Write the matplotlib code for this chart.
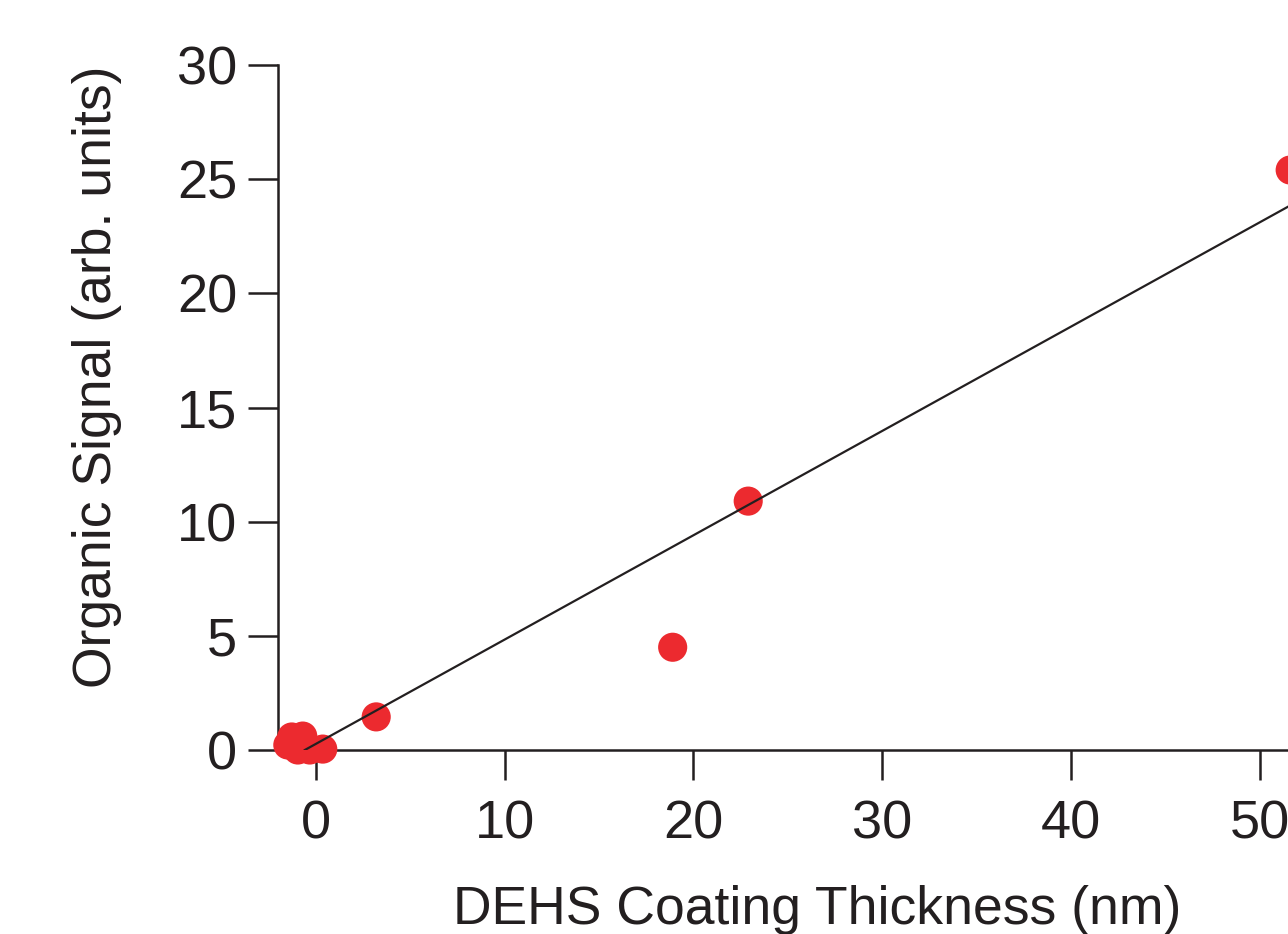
import matplotlib
matplotlib.use("Agg")
import matplotlib.pyplot as plt
import numpy as np

# Data
thickness = [-1.48, -1.27, -0.69, -0.95, -0.32, 0.37, 3.2, 18.9, 22.9, 51.6]
signal = [0.22, 0.57, 0.61, 0.0, 0.0, 0.04, 1.45, 4.5, 10.9, 25.4]
fit_slope = 0.457
fit_intercept = 0.265
fit_x = [-0.58, 60]
xticks = [0, 10, 20, 30, 40, 50]
yticks = [0, 5, 10, 15, 20, 25, 30]

text_color = "#231f20"
red = "#ec2a2f"

plt.rcParams['font.family'] = ['Liberation Sans', 'DejaVu Sans']

fig = plt.figure(figsize=(12.88, 9.34), dpi=100)
W, H = 1288, 934
px = 18.88
x0 = -2.0
x1 = 60
left = 278 / W
right_px = 316 + x1 * px
ax = fig.add_axes([left, (H - 750) / H, (right_px - 278) / W, (750 - 65) / H])

fx = np.array(fit_x)
ax.plot(fx, fit_slope * fx + fit_intercept, color=text_color, lw=1.6, zorder=4)
ax.scatter(thickness, signal, s=440, color=red, edgecolors='none', zorder=3, clip_on=False)

ax.set_xlim(x0, x1)
ax.set_ylim(0, 30)
ax.set_xticks(xticks)
ax.set_yticks(yticks)
for s in ['top', 'right']:
    ax.spines[s].set_visible(False)
for s in ['left', 'bottom']:
    ax.spines[s].set_linewidth(1.8)
    ax.spines[s].set_color(text_color)
ax.tick_params(axis='both', direction='out', length=21.5, width=1.8, color=text_color,
               labelcolor=text_color, labelsize=39)
ax.tick_params(axis='x', pad=14)
ax.tick_params(axis='y', pad=8)

ax.set_xlabel("DEHS Coating Thickness (nm)", fontsize=38.5, color=text_color)
ax.xaxis.set_label_coords((817 - 278) / (right_px - 278), -(910 - 750) / (750 - 65))
ax.xaxis.label.set_va('center')
ax.set_ylabel("Organic Signal (arb. units)", fontsize=38.5, color=text_color)
ax.yaxis.set_label_coords(-(278 - 97) / (right_px - 278), (750 - 377) / (750 - 65))
ax.yaxis.label.set_va('center')

fig.savefig("out.png", dpi=100)
